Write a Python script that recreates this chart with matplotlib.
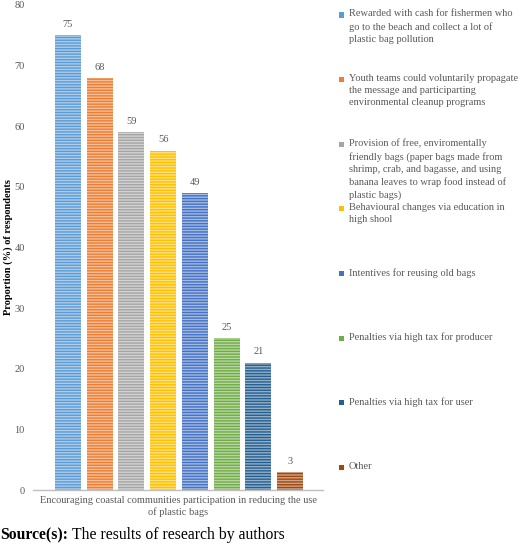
import matplotlib
matplotlib.use("Agg")
import matplotlib.pyplot as plt
from matplotlib.patches import Rectangle
from matplotlib import colors as mcolors
import numpy as np

categories = [
    "Rewarded with cash for fishermen who\ngo to the beach and collect a lot of\nplastic bag pollution",
    "Youth teams could voluntarily propagate\nthe message and participarting\nenvironmental cleanup programs",
    "Provision of free, enviromentally\nfriendly bags (paper bags made from\nshrimp, crab, and bagasse, and using\nbanana leaves to wrap food instead of\nplastic bags)",
    "Behavioural changes via education in\nhigh shool",
    "Intentives for reusing old bags",
    "Penalties via high tax for producer",
    "Penalties via high tax for user",
    "Other",
]
values = [75, 68, 59, 56, 49, 25, 21, 3]
yticks = [0, 10, 20, 30, 40, 50, 60, 70, 80]
xlabel = "Encouraging coastal communities participation in reducing the use\nof plastic bags"
ylabel = "Proportion (%) of respondents"
colors = ["#5B9BD5", "#ED7D31", "#A5A5A5", "#FFC000", "#4472C4", "#70AD47", "#255E91", "#9E480E"]

plt.rcParams['font.family'] = ['Liberation Serif', 'DejaVu Serif']
plt.rcParams['hatch.linewidth'] = 1.0
TXT = "#595959"

W, H = 520, 545
fig = plt.figure(figsize=(W / 100, H / 100), dpi=100)
ax = fig.add_axes([33 / W, 55 / H, 290 / W, 485 / H])


def lighten(c, f):
    r, g, b = mcolors.to_rgb(c)
    return (r + (1 - r) * f, g + (1 - g) * f, b + (1 - b) * f)


x = np.arange(len(values))
for i, (v, c) in enumerate(zip(values, colors)):
    ax.bar(x[i], v, width=0.82, color=lighten(c, 0.5), edgecolor=c,
           linewidth=0, hatch="------")
    ax.annotate(str(v), (x[i], v), xytext=(0, 4.5), textcoords="offset points",
                ha="center", va="bottom", fontsize=7.5, color=TXT)

ax.set_xlim(-1.1, 8.04)
ax.set_ylim(0, 80)
ax.set_yticks(yticks)
ax.tick_params(axis="y", length=0, labelsize=7.5, labelcolor=TXT, pad=6)
ax.set_xticks([])
for s in ["top", "right", "left"]:
    ax.spines[s].set_visible(False)
ax.spines["bottom"].set_color("#BFBFBF")
ax.spines["bottom"].set_linewidth(1.0)

ax.set_ylabel(ylabel, fontsize=7.5, fontweight="bold", color="black")
ax.yaxis.set_label_coords(-20 / 290, 0.5)
fig.text(178 / W, 1 - 496 / H, xlabel, ha="center", va="top", fontsize=7.5,
         color=TXT, linespacing=1.35)

# legend (manual, fixed spacing)
for i, (lab, c) in enumerate(zip(categories, colors)):
    yc = 15 + i * 64.6
    fig.patches.append(Rectangle((339 / W, 1 - (yc + 2.5) / H), 5 / W, 5 / H,
                                 transform=fig.transFigure, facecolor=c,
                                 edgecolor="none"))
    fig.text(349 / W, 1 - (yc - 5.5) / H, lab, ha="left", va="top",
             fontsize=7.5, color=TXT, linespacing=1.45)

t1 = fig.text(0.5 / W, 1 - 535 / H, "Source(s):", ha="left", va="center",
              fontsize=11.3, fontweight="bold", color="black")
fig.canvas.draw()
bb = t1.get_window_extent()
fig.text((bb.x1 + 4) / W, 1 - 535 / H, "The results of research by authors",
         ha="left", va="center", fontsize=11.3, color="black")

fig.savefig("out.png", dpi=100)
